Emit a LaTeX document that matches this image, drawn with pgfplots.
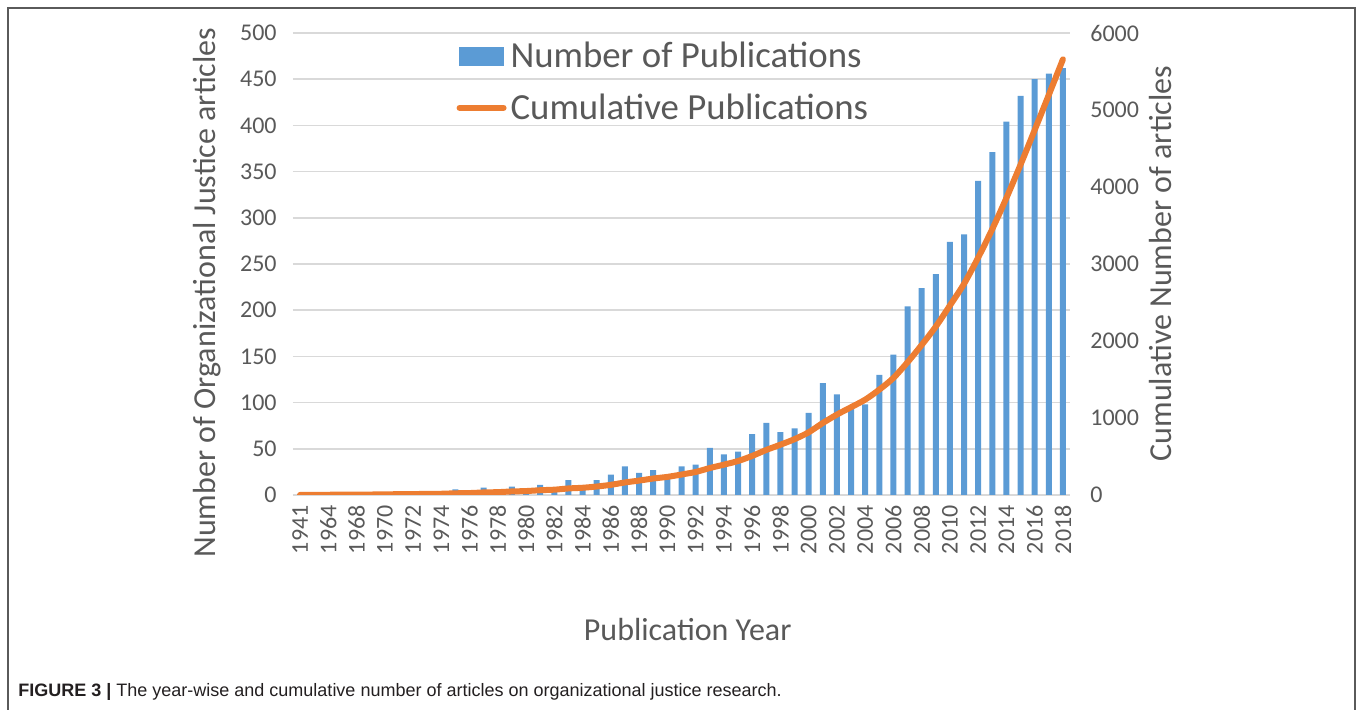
\documentclass[border=0pt]{standalone}
\usepackage{fontspec}
\setmainfont{Carlito}
\newfontfamily\capfont{Liberation Sans}
\usepackage{pgfplots}
\pgfplotsset{compat=1.18}
\usepackage{pgfplotstable}

\definecolor{barblue}{HTML}{5B9BD5}
\definecolor{lineorange}{HTML}{ED7D31}
\definecolor{txtgray}{HTML}{595959}
\definecolor{gridgray}{HTML}{D9D9D9}
\definecolor{framegray}{HTML}{5A5A5A}
\definecolor{captext}{HTML}{231F20}

% idx = category position, n = articles that year, cum = running total
\pgfplotstableread{
idx year n cum
0 1941 1 1
1 1962 1 2
2 1964 1 3
3 1966 1 4
4 1968 1 5
5 1969 1 6
6 1970 3 9
7 1971 1 10
8 1972 2 12
9 1973 2 14
10 1974 2 16
11 1975 6 22
12 1976 3 25
13 1977 8 33
14 1978 4 37
15 1979 9 46
16 1980 5 51
17 1981 11 62
18 1982 7 69
19 1983 16 85
20 1984 9 94
21 1985 16 110
22 1986 22 132
23 1987 31 163
24 1988 24 187
25 1989 27 214
26 1990 21 235
27 1991 31 266
28 1992 33 299
29 1993 51 350
30 1994 44 394
31 1995 47 441
32 1996 66 507
33 1997 78 585
34 1998 68 653
35 1999 72 725
36 2000 89 814
37 2001 121 935
38 2002 109 1044
39 2003 96 1140
40 2004 98 1238
41 2005 130 1368
42 2006 152 1520
43 2007 204 1724
44 2008 224 1948
45 2009 239 2187
46 2010 274 2461
47 2011 282 2743
48 2012 340 3083
49 2013 371 3454
50 2014 404 3858
51 2015 432 4290
52 2016 450 4740
53 2017 456 5196
54 2018 462 5658
}\pubs

\begin{document}
\begin{tikzpicture}
\useasboundingbox (-146.5pt,-107.5pt) rectangle (533.5pt,247.5pt);
\draw[framegray, line width=0.6pt] (-142.5pt,-107.5pt) -- (-142.5pt,243.5pt) -- (531pt,243.5pt) -- (531pt,-107.5pt);

\pgfplotsset{
  common/.style={
    at={(0,0)}, anchor=south west,
    scale only axis, width=388.5pt, height=231pt,
    xmin=-0.5, xmax=54.5,
    axis line style={draw=none},
    major tick length=0pt,
    tick label style={font=\fontsize{12}{14}\selectfont, text=txtgray},
    label style={font=\fontsize{16}{18}\selectfont, text=txtgray},
    /pgf/number format/assume math mode=true,
    /pgf/number format/1000 sep={},
  }
}

\begin{axis}[common,
  ymin=0, ymax=500, ytick distance=50,
  ymajorgrids, major grid style={gridgray, line width=0.8pt},
  xtick={0,2,...,54},
  xticklabels={1941,1964,1968,1970,1972,1974,1976,1978,1980,1982,1984,1986,1988,1990,1992,1994,1996,1998,2000,2002,2004,2006,2008,2010,2012,2014,2016,2018},
  xticklabel style={inner sep=0pt, yshift=-5pt, rotate=90, anchor=east},
  yticklabel style={inner sep=0pt, anchor=east, xshift=-8pt},
  ylabel={Number of Organizational Justice articles},
  ylabel style={at={(axis description cs:-0.1107,0.438)}, anchor=center},
  xlabel={Publication Year},
  xlabel style={at={(axis description cs:0.508,-0.292)}, anchor=center},
  ybar, bar width=3pt,
]
  \addplot[fill=barblue, draw=none] table[x=idx, y=n] {\pubs};
\end{axis}

\begin{axis}[common,
  ymin=0, ymax=6000, ytick distance=1000,
  hide x axis,
  axis y line*=right,
  yticklabel style={inner sep=0pt, anchor=west, xshift=10pt},
  ylabel={Cumulative Number of articles},
  ylabel style={at={(axis description cs:1.116,0.501)}, anchor=center},
  legend style={at={(0.21,0.990)}, anchor=north west, draw=none, fill=none,
    font=\fontsize{18.4}{21}\selectfont, text=txtgray, row sep=7.5pt,
    inner sep=0pt, cells={anchor=west}},
]
  \addlegendimage{legend image code/.code={\fill[barblue] (0pt,-4.5pt) rectangle (22pt,4.5pt);}}
  \addlegendentry{Number of Publications}
  \addplot[lineorange, line width=3pt, smooth, line cap=round,
    legend image code/.code={\draw[lineorange, line width=3pt, line cap=round] (0pt,0pt) -- (22pt,0pt);}]
    table[x=idx, y=cum] {\pubs};
  \addlegendentry{Cumulative Publications}
\end{axis}

\node[anchor=west, inner sep=0pt, font=\capfont\fontsize{9}{11}\selectfont, text=captext]
  at (-137.5pt,-98.5pt) {\textbf{FIGURE 3 |} The year-wise and cumulative number of articles on organizational justice research.};
\end{tikzpicture}
\end{document}
